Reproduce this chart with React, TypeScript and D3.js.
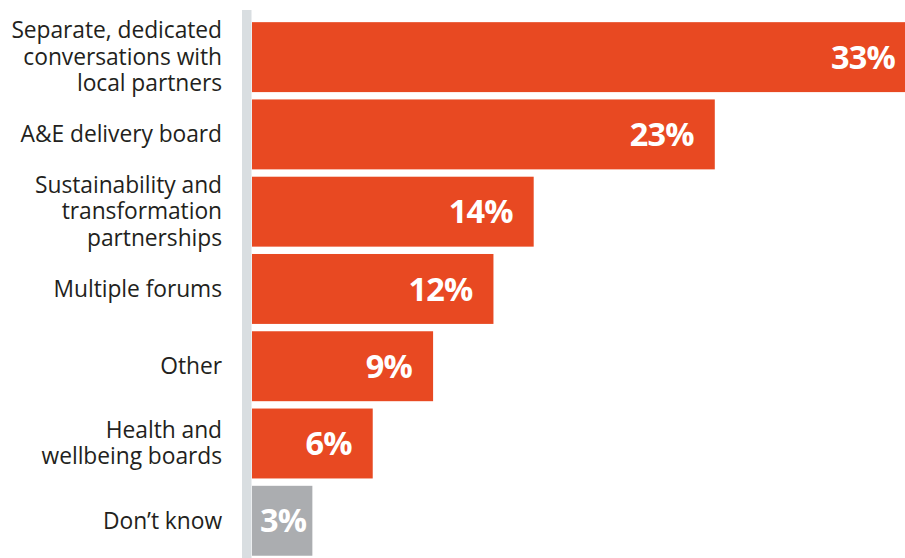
import React, { useEffect, useRef } from 'react';
import * as d3 from 'd3';

// Data
const categories: string[][] = [
  ['Separate, dedicated', 'conversations with', 'local partners'],
  ['A&E delivery board'],
  ['Sustainability and', 'transformation', 'partnerships'],
  ['Multiple forums'],
  ['Other'],
  ['Health and', 'wellbeing boards'],
  ['Don\u2019t know'],
];
const values: number[] = [33, 23, 14, 12, 9, 6, 3];
const highlight: boolean[] = [true, true, true, true, true, true, false];

const WIDTH = 905;
const HEIGHT = 558;
const ORANGE = '#e84922';
const GREY = '#abadb0';
const AXIS = '#d9dee1';
const FONT = '"Open Sans", "Noto Sans", sans-serif';

export default function App() {
  const svgRef = useRef<SVGSVGElement>(null);

  useEffect(() => {
    if (!svgRef.current) return;
    const svg = d3.select(svgRef.current);
    svg.selectAll('*').remove();

    const x = d3.scaleLinear().domain([0, 33]).range([252, 916]);
    const y = d3
      .scaleBand<number>()
      .domain(d3.range(values.length))
      .range([18.3, 559.6])
      .paddingInner(0.095)
      .paddingOuter(0.05);

    // grey axis band
    svg.append('rect')
      .attr('x', 242)
      .attr('y', 10)
      .attr('width', 9.5)
      .attr('height', HEIGHT - 10)
      .attr('fill', AXIS);

    // bars
    svg.selectAll('.bar')
      .data(values)
      .enter()
      .append('rect')
      .attr('class', 'bar')
      .attr('x', x(0))
      .attr('y', (_, i) => y(i)!)
      .attr('width', d => x(d) - x(0))
      .attr('height', y.bandwidth())
      .attr('fill', (_, i) => (highlight[i] ? ORANGE : GREY));

    // value labels
    svg.selectAll('.val')
      .data(values)
      .enter()
      .append('text')
      .attr('class', 'val')
      .attr('x', d => (x(d) - x(0) < 80 ? x(0) + 8 : x(d) - 21))
      .attr('y', (_, i) => y(i)! + y.bandwidth() / 2)
      .attr('dy', '0.36em')
      .attr('text-anchor', d => (x(d) - x(0) < 80 ? 'start' : 'end'))
      .style('font-family', FONT)
      .style('font-weight', 700)
      .style('font-size', '32.5px')
      .style('letter-spacing', '-0.8px')
      .style('fill', '#ffffff')
      .text(d => `${d}%`);

    // category labels
    const lineH = 26.5;
    categories.forEach((lines, i) => {
      const cy = y(i)! + y.bandwidth() / 2;
      const t = svg.append('text')
        .attr('text-anchor', 'end')
        .style('font-family', FONT)
        .style('font-size', '22.8px')
        .style('letter-spacing', '-0.05px')
        .style('fill', '#231f20');
      lines.forEach((line, j) => {
        t.append('tspan')
          .attr('x', 222)
          .attr('y', cy + (j - (lines.length - 1) / 2) * lineH)
          .attr('dy', '0.34em')
          .text(line);
      });
    });
  }, []);

  return (
    <svg
      ref={svgRef}
      width={WIDTH}
      height={HEIGHT}
      style={{ position: 'absolute', left: 0, top: 0, background: '#fff' }}
    />
  );
}
